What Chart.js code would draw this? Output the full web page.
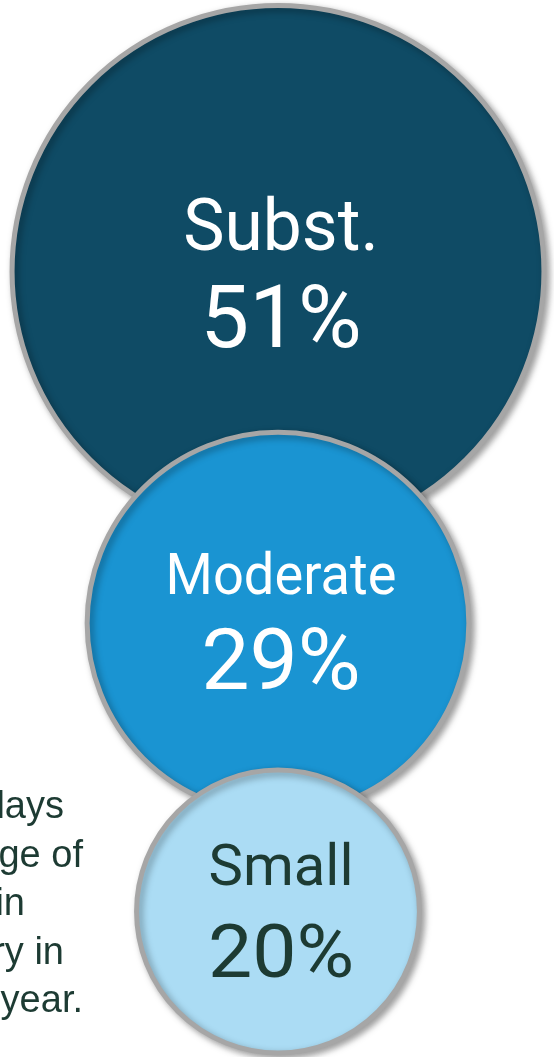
<!DOCTYPE html>
<html>
<head>
<meta charset="utf-8">
<script src="https://cdn.jsdelivr.net/npm/chart.js@4/dist/chart.umd.min.js"></script>
<style>
  html, body { margin: 0; padding: 0; background: #ffffff; }
  #wrap { width: 554px; height: 1057px; position: relative; overflow: hidden; }
</style>
</head>
<body>
<div id="wrap"><canvas id="c"></canvas></div>
<script>
// ---- data ----
const categories = ['Subst.', 'Moderate', 'Small'];
const shares = [51, 29, 20];
const valueLabels = ['51%', '29%', '20%'];
const captionLines = ['lays', 'ge of', 'in', 'ry in', 'year.'];

// ---- styles / layout ----
const fills = ['#0f4b65', '#1a94d2', '#abdcf4'];
const textColors = ['#ffffff', '#ffffff', '#1d3b33'];
const nameSizes = [72, 58, 58];
const nameScaleX = [0.965, 0.935, 1];
const valueSizes = [87, 86, 75];
const valueScaleX = [1, 1, 1.05];
const nameDy = [-21, -29, -26];
const valueDy = [76, 66, 66];
const LAYOUT = { cx: 278, top: 3, border: 5, overlaps: [105, 44] };
const CAPTION = { right: [64, 83, 25, 64, 83], firstBaseline: 818, lineGap: 48.5, size: 38, color: '#1d3b33' };

// bubble radius from share (log-scaled sizing)
function radiusFor(v) { return 133 * Math.log(v) - 257; }

const radii = shares.map(radiusFor);
const centersY = [];
radii.forEach((r, i) => {
  if (i === 0) centersY.push(LAYOUT.top + LAYOUT.border / 2 + r);
  else centersY.push(centersY[i - 1] + radii[i - 1] + r - LAYOUT.overlaps[i - 1]);
});
const points = shares.map((v, i) => ({ x: LAYOUT.cx, y: centersY[i], r: radii[i], v }));

const shadowPlugin = {
  id: 'shadow',
  beforeDatasetDraw(chart) {
    const ctx = chart.ctx;
    ctx.save();
    ctx.shadowColor = 'rgba(0,0,0,0.35)';
    ctx.shadowBlur = 7;
    ctx.shadowOffsetX = 3;
    ctx.shadowOffsetY = 3;
  },
  afterDatasetDraw(chart) { chart.ctx.restore(); }
};

function drawScaled(ctx, text, x, y, sx) {
  ctx.save();
  ctx.translate(x, y);
  ctx.scale(sx, 1);
  ctx.fillText(text, 0, 0);
  ctx.restore();
}

const labelPlugin = {
  id: 'labels',
  afterDatasetsDraw(chart) {
    const ctx = chart.ctx;
    const meta = chart.getDatasetMeta(0);
    ctx.save();
    ctx.textAlign = 'center';
    ctx.textBaseline = 'alphabetic';
    meta.data.forEach((el, i) => {
      ctx.fillStyle = textColors[i];
      ctx.font = '400 ' + nameSizes[i] + 'px Roboto';
      drawScaled(ctx, categories[i], el.x + 3, el.y + nameDy[i], nameScaleX[i]);
      ctx.font = '400 ' + valueSizes[i] + 'px Roboto';
      drawScaled(ctx, valueLabels[i], el.x + 3, el.y + valueDy[i], valueScaleX[i]);
    });
    // caption (cut off at the left edge)
    ctx.fillStyle = CAPTION.color;
    ctx.font = CAPTION.size + 'px "Liberation Sans", Arial, sans-serif';
    ctx.textAlign = 'right';
    captionLines.forEach((t, i) => {
      ctx.fillText(t, CAPTION.right[i], CAPTION.firstBaseline + i * CAPTION.lineGap);
    });
    ctx.restore();
  }
};

new Chart(document.getElementById('c'), {
  type: 'bubble',
  data: {
    labels: categories,
    datasets: [{
      data: points,
      backgroundColor: fills,
      borderColor: '#a6a6a6',
      borderWidth: LAYOUT.border,
      hoverBorderWidth: LAYOUT.border,
      clip: false
    }]
  },
  options: {
    responsive: true,
    maintainAspectRatio: false,
    animation: false,
    events: [],
    layout: { padding: 0, autoPadding: false },
    scales: {
      x: { type: 'linear', min: 0, max: 554, display: false },
      y: { type: 'linear', min: 0, max: 1057, reverse: true, display: false }
    },
    plugins: { legend: { display: false }, tooltip: { enabled: false } }
  },
  plugins: [shadowPlugin, labelPlugin]
});
</script>
</body>
</html>
